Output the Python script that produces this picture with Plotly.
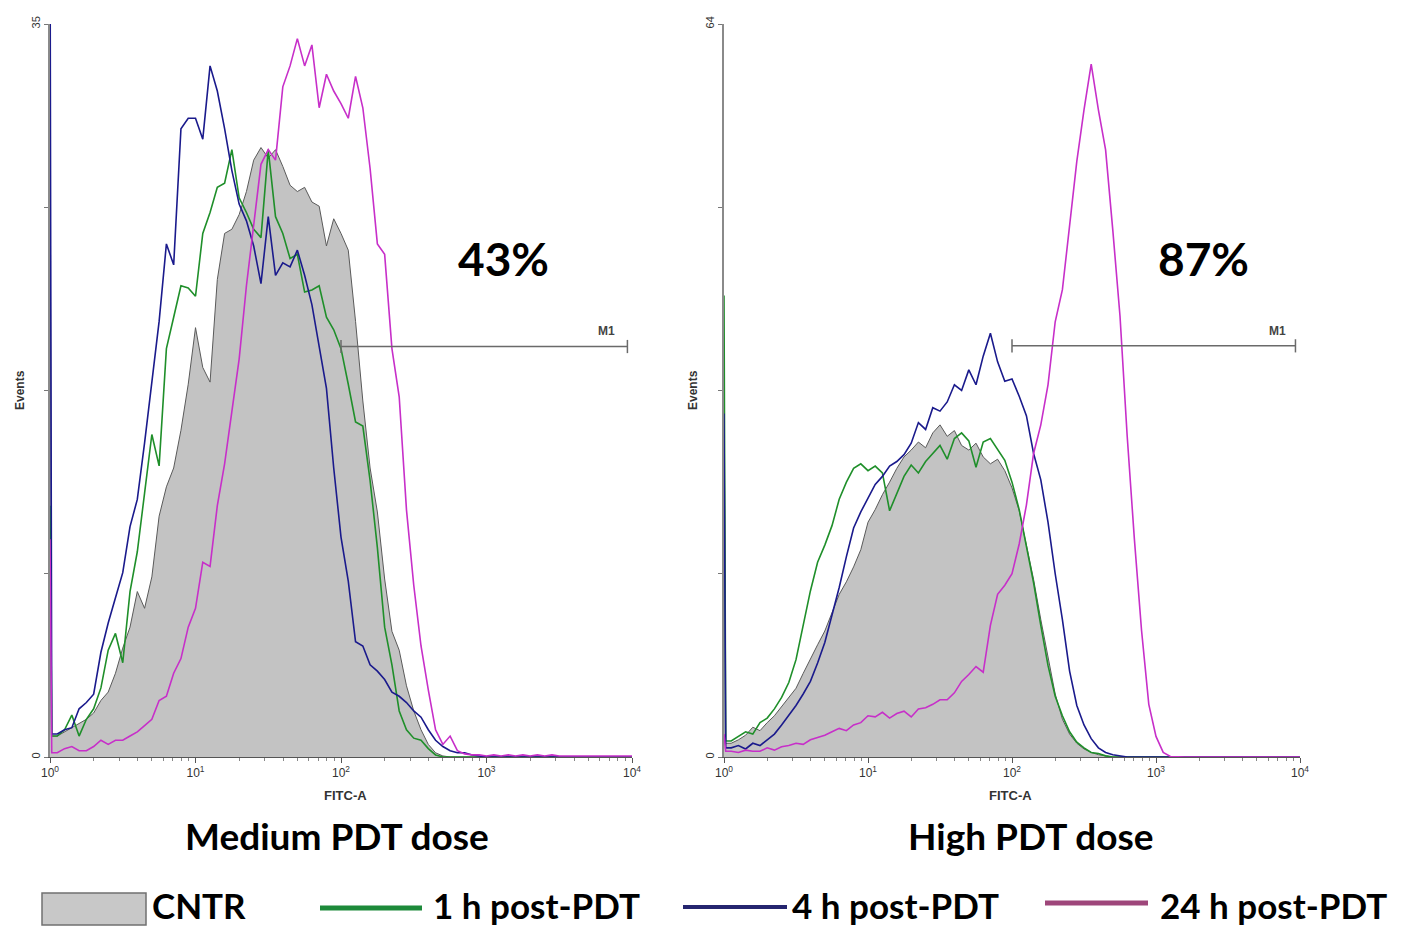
import plotly.graph_objects as go

# log10 channel positions shared by every histogram (0.05 .. 3.50)
LOG_CHANNELS = [round(0.05 * k, 2) for k in range(1, 71)]

# ---- Medium PDT dose (left) : events per channel ----
MED_CNTR = [
    1.0, 1.2, 1.4, 1.6, 1.8, 2.1, 2.7, 3.1, 4.0, 5.2,
    6.2, 7.9, 7.1, 8.6, 11.5, 12.9, 13.8, 15.6, 17.8, 20.5,
    18.6, 17.9, 22.8, 25.0, 25.2, 25.9, 27.0, 28.5, 29.1, 28.6,
    29.0, 28.2, 27.3, 27.0, 27.2, 26.5, 26.3, 24.4, 25.7, 25.0,
    24.2, 20.8, 17.0, 13.8, 11.7, 8.5, 6.0, 5.1, 3.4, 2.2,
    1.3, 0.6, 0.2, 0.05, 0, 0, 0, 0, 0, 0,
    0, 0, 0, 0, 0, 0, 0, 0, 0, 0,
]
MED_1H = [
    1.0, 1.3, 2.0, 1.0, 1.8, 2.3, 3.3, 5.1, 5.9, 4.5,
    7.9, 9.8, 12.6, 15.4, 13.9, 19.5, 21.0, 22.5, 22.4, 22.0,
    25.0, 26.0, 27.2, 27.4, 29.0, 26.7, 26.0, 25.2, 24.8, 29.0,
    25.8, 25.0, 23.8, 24.0, 22.2, 22.3, 22.5, 21.0, 20.4, 19.5,
    17.8, 16.0, 15.8, 13.2, 10.0, 6.2, 4.4, 2.2, 1.3, 0.9,
    0.8, 0.4, 0.1, 0, 0, 0, 0, 0, 0, 0,
    0, 0, 0, 0, 0, 0, 0, 0, 0, 0,
]
MED_4H = [
    1.1, 1.3, 1.4, 2.3, 2.6, 3.0, 5.0, 6.4, 7.6, 8.8,
    11.0, 12.3, 15.0, 18.0, 20.8, 24.5, 23.5, 30.0, 30.5, 30.5,
    29.5, 33.0, 31.8, 30.0, 28.0, 26.4, 25.6, 24.4, 22.6, 25.8,
    23.0, 23.6, 23.4, 24.2, 23.0, 21.6, 19.5, 17.6, 13.8, 10.5,
    8.4, 5.5, 5.3, 4.4, 4.1, 3.7, 3.1, 2.9, 2.6, 2.2,
    1.9, 1.3, 0.8, 0.5, 0.3, 0.2, 0.2, 0.1, 0.05, 0,
    0, 0, 0, 0, 0, 0, 0, 0, 0, 0,
]
MED_24H = [
    0.2, 0.4, 0.5, 0.3, 0.3, 0.5, 0.8, 0.6, 0.8, 0.8,
    1.0, 1.2, 1.5, 1.8, 2.7, 2.9, 4.0, 4.7, 6.2, 7.1,
    9.3, 9.1, 12.0, 14.0, 16.5, 19.0, 22.5, 25.3, 28.3, 29.0,
    28.5, 32.0, 33.0, 34.3, 33.0, 34.0, 31.0, 32.6, 31.8, 31.2,
    30.5, 32.5, 31.0, 28.1, 24.5, 24.0, 19.5, 17.2, 11.8, 8.2,
    5.3, 3.2, 1.3, 0.6, 1.0, 0.3, 0.15, 0.1, 0.1, 0.05,
    0.1, 0.05, 0.1, 0.05, 0.1, 0.05, 0.1, 0.05, 0.1, 0.05,
]

# ---- High PDT dose (right) ----
HIGH_CNTR = [
    1.2, 1.5, 1.9, 2.6, 2.3, 3.0, 3.6, 4.4, 5.3, 6.0,
    7.3, 8.6, 9.8, 11.0, 12.6, 14.2, 15.3, 16.6, 18.1, 20.5,
    21.6, 22.9, 24.0, 25.2, 26.2, 26.8, 27.5, 27.0, 28.3, 29.0,
    28.0, 28.5, 27.2, 26.8, 27.4, 26.2, 25.6, 26.0, 25.0, 23.5,
    21.5, 18.5, 15.5, 12.0, 8.6, 5.5, 3.3, 2.0, 1.2, 0.7,
    0.4, 0.2, 0.1, 0, 0, 0, 0, 0, 0, 0,
    0, 0, 0, 0, 0, 0, 0, 0, 0, 0,
]
HIGH_1H = [
    1.4, 1.8, 2.2, 2.0, 3.0, 3.4, 4.2, 5.2, 6.5, 8.5,
    11.5, 14.5, 17.0, 18.5, 20.2, 22.5, 24.0, 25.2, 25.6, 25.0,
    25.4, 24.8, 21.5, 23.0, 24.5, 25.5, 24.8, 25.8, 26.5, 27.2,
    26.0, 27.8, 28.3, 27.6, 25.3, 27.5, 27.8, 26.8, 25.9, 24.0,
    21.6, 18.4, 15.2, 11.5, 8.0, 5.3, 3.6, 2.2, 1.3, 0.8,
    0.4, 0.3, 0.1, 0, 0, 0, 0, 0, 0, 0,
    0, 0, 0, 0, 0, 0, 0, 0, 0, 0,
]
HIGH_4H = [
    0.8, 1.0, 0.7, 1.2, 1.0, 1.5, 2.0, 2.8, 3.6, 4.5,
    5.5, 6.6, 8.2, 10.0, 12.4, 14.8, 17.5, 20.0, 21.4, 22.6,
    23.8, 24.5, 25.4, 25.8, 26.4, 27.4, 29.2, 28.6, 30.5, 30.2,
    31.0, 32.5, 32.0, 33.8, 32.5, 35.0, 37.0, 34.5, 32.8, 33.0,
    31.5, 29.8, 26.5, 24.2, 20.5, 16.0, 12.0, 7.5, 4.5, 2.8,
    1.6, 0.8, 0.4, 0.2, 0.1, 0, 0, 0, 0, 0,
    0, 0, 0, 0, 0, 0, 0, 0, 0, 0,
]
HIGH_24H = [
    0.5, 0.4, 0.6, 0.5, 0.5, 0.8, 0.6, 0.9, 1.0, 1.2,
    1.1, 1.5, 1.7, 1.9, 2.2, 2.5, 2.3, 2.8, 3.0, 3.6,
    3.5, 3.9, 3.4, 3.8, 4.0, 3.5, 4.2, 4.3, 4.6, 5.0,
    5.0, 5.6, 6.6, 7.2, 7.9, 7.4, 11.5, 14.2, 15.0, 16.0,
    18.6, 22.0, 26.5, 29.0, 32.5, 38.0, 40.8, 46.5, 52.0, 56.5,
    60.5, 56.5, 53.0, 46.0, 38.5, 28.0, 19.0, 11.0, 4.6, 1.8,
    0.4, 0.05, 0, 0, 0, 0, 0, 0, 0, 0,
]

# first-channel (10^0) pile-up values: CNTR, 1 h, 4 h, 24 h
MED_FIRST = [30.7, 12.0, 40.0, 10.4]
HIGH_FIRST = [33.7, 40.3, 30.0, 2.0]

PANEL_TITLES = ["Medium PDT dose", "High PDT dose"]
PERCENTS = ["43%", "87%"]
Y_MAX = [35, 64]
GATE_START = 100
GATE_END = 9300
GATE_LEVEL = [19.6, 35.9]
LEGEND_LABELS = ["CNTR", "1 h post-PDT", "4 h post-PDT", "24 h post-PDT"]
DECADES = [1, 10, 100, 1000, 10000]

W, H = 1405, 926
GREEN = "#1f8f2a"
NAVY = "#1a1a8c"
MAGENTA = "#c72fc9"
BOLD = "Lato"


def px(x, y):
    return x / W, 1 - y / H


def series(first, values):
    xs = [1.0, 10 ** 0.012] + [10 ** v for v in LOG_CHANNELS] + [10000.0]
    ys = [first, values[0]] + values + [values[-1]]
    return xs, ys


fig = go.Figure()

panels = [
    ("x", "y", MED_FIRST, [MED_CNTR, MED_1H, MED_4H, MED_24H]),
    ("x2", "y2", HIGH_FIRST, [HIGH_CNTR, HIGH_1H, HIGH_4H, HIGH_24H]),
]
for i, (xa, ya, first, curves) in enumerate(panels):
    xs, ys = series(first[0], curves[0])
    fig.add_trace(go.Scatter(
        x=xs, y=ys, xaxis=xa, yaxis=ya, mode="lines", fill="tozeroy",
        fillcolor="#c3c3c3", line=dict(color="#5a5a5a", width=1), showlegend=False,
    ))
    for j, color in zip(range(1, 4), [GREEN, NAVY, MAGENTA]):
        xs, ys = series(first[j], curves[j])
        fig.add_trace(go.Scatter(
            x=xs, y=ys, xaxis=xa, yaxis=ya, mode="lines",
            line=dict(color=color, width=1.6), showlegend=False,
        ))
    # M1 gate marker
    lvl = GATE_LEVEL[i]
    tick = Y_MAX[i] * 0.009
    fig.add_trace(go.Scatter(
        x=[GATE_START, GATE_START, None, GATE_START, GATE_END, None, GATE_END, GATE_END],
        y=[lvl - tick, lvl + tick, None, lvl, lvl, None, lvl - tick, lvl + tick],
        xaxis=xa, yaxis=ya, mode="lines", line=dict(color="#6a6a6a", width=1.5),
        showlegend=False,
    ))

minor_vals = [d * 10 ** e for e in range(4) for d in range(2, 10)]
x_common = dict(
    type="log", range=[0, 4], tickvals=DECADES, automargin=False,
    ticktext=["10<sup>%d</sup>" % k for k in range(5)],
    ticks="outside", ticklen=5, tickcolor="#555", showline=True, linecolor="#555",
    linewidth=1, showgrid=False, zeroline=False,
    tickfont=dict(family="Liberation Sans Narrow, Liberation Sans", size=12, color="#333"),
    minor=dict(tickvals=minor_vals, ticks="outside", ticklen=3, tickcolor="#888"),
)
y_common = dict(
    ticks="outside", ticklen=4, tickcolor="#777", tickangle=-90, showline=True,
    linecolor="#8a8a8a", linewidth=1.5, showgrid=False, zeroline=False, automargin=False,
    tickfont=dict(family="Liberation Sans Narrow, Liberation Sans", size=11, color="#333"),
)


def y_axis(k):
    top = Y_MAX[k]
    return dict(
        domain=[1 - 757 / H, 1 - 24 / H], range=[0, top],
        tickvals=[0, top], ticktext=["0", str(top)],
        minor=dict(tickvals=[top * q / 4 for q in range(1, 4)], ticks="outside",
                   ticklen=4, tickcolor="#777"),
        **y_common,
    )


fig.update_layout(
    width=W, height=H, margin=dict(l=0, r=0, t=0, b=0, autoexpand=False),
    paper_bgcolor="white", plot_bgcolor="white", showlegend=False,
    xaxis=dict(domain=[50 / W, 632 / W], anchor="y", **x_common),
    yaxis=dict(anchor="x", **y_axis(0)),
    xaxis2=dict(domain=[724 / W, 1300 / W], anchor="y2", **x_common),
    yaxis2=dict(anchor="x2", **y_axis(1)),
)

annotations = []


def note(x, y, text, size, family=BOLD, color="black", angle=0, xanchor="center"):
    ax, ay = px(x, y)
    annotations.append(dict(
        x=ax, y=ay, xref="paper", yref="paper", text=text, showarrow=False,
        xanchor=xanchor, yanchor="middle", textangle=angle,
        font=dict(family=family, size=size, color=color),
    ))


narrow = "Liberation Sans Narrow, Liberation Sans"
for cx, ex, m1x in [(345, 20, 606), (1011, 693, 1277)]:
    note(cx, 795, "<b>FITC-A</b>", 13, narrow, "#333")
    note(ex, 390, "<b>Events</b>", 12, narrow, "#333", angle=-90)
    note(m1x, 331, "<b>M1</b>", 12, narrow, "#444")
for k in range(2):
    tx = [337, 1030][k]
    pcx = [503, 1203][k]
    note(tx, 835, "<b>%s</b>" % PANEL_TITLES[k], 37)
    note(pcx, 258, "<b>%s</b>" % PERCENTS[k], 46)

# legend drawn at the foot of the figure
shapes = []
x0, y0 = px(42, 925)
x1, y1 = px(146, 893)
shapes.append(dict(type="rect", xref="paper", yref="paper", x0=x0, y0=y0, x1=x1, y1=y1,
                   fillcolor="#c8c8c8", line=dict(color="#707070", width=1.5)))
for (a, b, yy, color, width) in [(320, 422, 908, "#1d8a3a", 5), (683, 787, 907, "#25256f", 4),
                                 (1045, 1148, 903, "#9e467a", 5)]:
    sa, sy = px(a, yy)
    sb, _ = px(b, yy)
    shapes.append(dict(type="line", xref="paper", yref="paper", x0=sa, y0=sy, x1=sb, y1=sy,
                       line=dict(color=color, width=width)))
for label, lx in zip(LEGEND_LABELS, [150, 431, 790, 1158]):
    note(lx, 905, "<b>%s</b>" % label, 35, xanchor="left")

fig.update_layout(annotations=annotations, shapes=shapes)
fig.write_html(
    "out.html",
    config={"displayModeBar": False},
    post_script="document.body.style.margin='0px';",
)
